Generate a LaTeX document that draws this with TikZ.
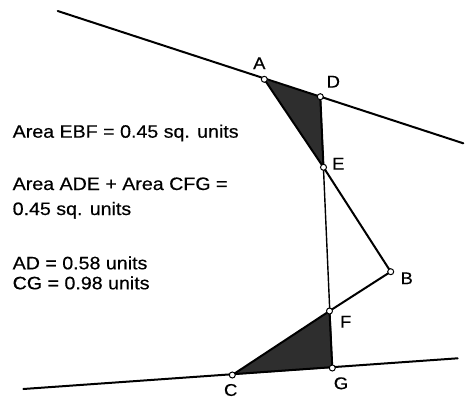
\documentclass[tikz,border=0pt]{standalone}
\usepackage{fontspec}
\setmainfont[FakeStretch=1.09,FakeBold=0.4]{Liberation Sans}
\begin{document}
\begin{tikzpicture}[x=1pt,y=-1pt,
  ln/.style={line width=2pt,line cap=round},
  thin/.style={line width=1.4pt},
  shade/.style={fill=black!82},
  vtx/.style={circle,draw,fill=white,inner sep=0pt,minimum size=6pt,line width=1pt},
  lbl/.style={inner sep=0pt,font=\fontsize{17pt}{19pt}\selectfont},
  txt/.style={anchor=base west,inner sep=0pt,font=\fontsize{18pt}{20pt}\selectfont}]
\useasboundingbox (0,0) rectangle (466,402);
% points
\coordinate (A) at (264.3,79.3);
\coordinate (D) at (320.3,96.7);
\coordinate (E) at (323.5,167.3);
\coordinate (B) at (390.7,271.7);
\coordinate (F) at (329.5,311);
\coordinate (C) at (232.3,375);
\coordinate (G) at (332.3,368);
\coordinate (T1) at (57.7,11);
\coordinate (T2) at (463.3,143.3);
\coordinate (L1) at (23.3,389);
\coordinate (L2) at (457.7,358.3);
% shaded triangles
\fill[shade] (A) -- (D) -- (E) -- cycle;
\fill[shade] (C) -- (F) -- (G) -- cycle;
% lines
\draw[ln] (T1) -- (T2);
\draw[ln] (L1) -- (L2);
\draw[thin] (D) -- (G);
\draw[ln] (D) -- (E);
\draw[ln] (F) -- (G);
\draw[ln] (A) -- (E) -- (B) -- (F) -- (C);
% vertices
\foreach \p in {A,D,E,B,F,C,G} \node[vtx] (p\p) at (\p) {};
% labels
\node[lbl] (lA) at (259.3,63.3) {A};
\node[lbl] (lD) at (333.3,81.7) {D};
\node[lbl] (lE) at (338.3,163.7) {E};
\node[lbl] (lB) at (406.7,278.3) {B};
\node[lbl] (lF) at (345.7,321.7) {F};
\node[lbl] (lC) at (230.7,390) {C};
\node[lbl] (lG) at (341,383.3) {G};
% text
\node[txt] (t1) at (12.5,137.7) {Area EBF = 0.45 sq. units};
\node[txt] (t2) at (12.5,190) {Area ADE + Area CFG =};
\node[txt] (t3) at (12.5,215) {0.45 sq. units};
\node[txt] (t4) at (12.5,269.3) {AD = 0.58 units};
\node[txt] (t5) at (12.5,289.3) {CG = 0.98 units};
\end{tikzpicture}
\end{document}
